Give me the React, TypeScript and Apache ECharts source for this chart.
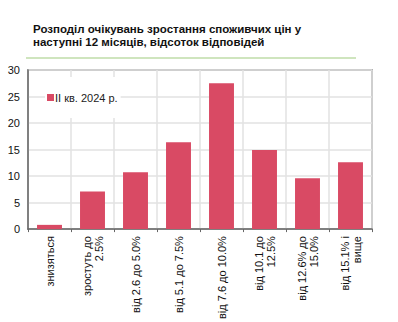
import React, { useEffect, useRef } from "react";
import * as echarts from "echarts";

const titleLines = [
  "Розподіл очікувань зростання споживчих цін у",
  "наступні 12 місяців, відсоток відповідей",
];
const categories = [
  "знизяться",
  "зростуть до\n2.5%",
  "від 2.6 до 5.0%",
  "від 5.1 до 7.5%",
  "від 7.6 до 10.0%",
  "від 10.1 до\n12.5%",
  "від 12.6% до\n15.0%",
  "від 15.1% і\nвище",
];
const seriesName = "II кв. 2024 р.";
const values = [0.8, 7.1, 10.7, 16.4, 27.5, 14.9, 9.6, 12.6];

export default function App() {
  const ref = useRef<HTMLDivElement>(null);
  useEffect(() => {
    if (!ref.current) return;
    const chart = echarts.init(ref.current, null, { renderer: "svg" });
    const font = "Liberation Sans, Arial, sans-serif";
    chart.setOption({
      animation: false,
      backgroundColor: "#fff",
      textStyle: { fontFamily: font },
      title: {
        text: titleLines.join("\n"),
        left: 28,
        top: 17,
        padding: 5,
        textStyle: {
          fontFamily: font,
          fontSize: 11.5,
          fontWeight: "bold",
          color: "#111",
          lineHeight: 13.5,
        },
      },
      graphic: [
        {
          type: "line",
          shape: { x1: 26, y1: 58, x2: 356, y2: 58 },
          style: { stroke: "#9fcb7f", lineWidth: 1.2 },
        },
      ],
      legend: {
        left: 45,
        top: 77,
        backgroundColor: "#fff",
        padding: [14, 3, 14, 2],
        itemWidth: 7,
        itemHeight: 7,
        itemGap: 4,
        icon: "rect",
        textStyle: { fontFamily: font, fontSize: 11, color: "#222", padding: [0, 0, 0, -4], lineHeight: 13 },
        data: [seriesName],
      },
      grid: {
        left: 28,
        right: 26,
        top: 70,
        bottom: 91,
        show: true,
        borderColor: "#777",
        borderWidth: 1.5,
      },
      xAxis: {
        type: "category",
        data: categories,
        axisLine: { show: true, lineStyle: { color: "#666", width: 1.5 } },
        axisTick: { show: true, length: 3, lineStyle: { color: "#666" } },
        splitLine: { show: true, lineStyle: { color: "#e2e2e2", width: 1.5 } },
        axisLabel: {
          rotate: 90,
          interval: 0,
          fontSize: 11,
          color: "#111",
          fontFamily: font,
          lineHeight: 12,
          margin: 7,
        },
      },
      yAxis: {
        type: "value",
        min: 0,
        max: 30,
        interval: 5,
        axisLine: { show: true, lineStyle: { color: "#666", width: 1.5 } },
        axisTick: { show: false },
        splitLine: { show: true, lineStyle: { color: "#e2e2e2", width: 1.5 } },
        axisLabel: { fontSize: 11, color: "#111", fontFamily: font, margin: 8 },
      },
      series: [
        {
          name: seriesName,
          type: "bar",
          data: values,
          barWidth: "58%",
          itemStyle: { color: "#d94a64" },
        },
      ],
    });
    return () => chart.dispose();
  }, []);
  return (
    <div
      ref={ref}
      style={{ position: "absolute", left: 0, top: 0, width: 398, height: 322 }}
    />
  );
}
